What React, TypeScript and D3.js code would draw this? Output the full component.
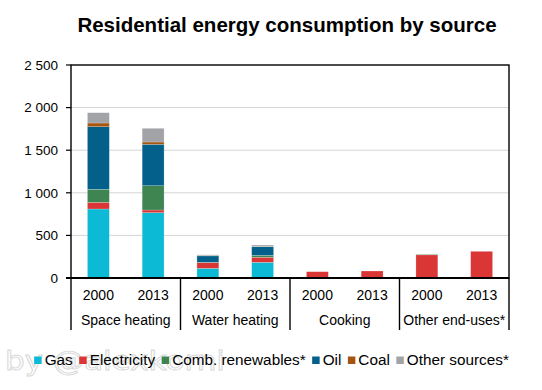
import React, { useEffect, useRef } from 'react';
import * as d3 from 'd3';

// end uses and years on the x axis
const endUses = ["Space heating", "Water heating", "Cooking", "Other end-uses*"];
const years = ["2000", "2013"];

// values per bar, in order: Space 2000, Space 2013, Water 2000, Water 2013, Cooking 2000, Cooking 2013, Other 2000, Other 2013
const gas = [810, 767, 114, 184, 0, 0, 0, 0];
const electricity = [78, 31, 66, 59, 74, 82, 272, 313];
const renewables = [153, 285, 5, 23, 0, 0, 6, 0];
const oil = [735, 486, 75, 101, 0, 0, 0, 0];
const coal = [43, 27, 2, 3, 0, 0, 0, 0];
const other = [121, 161, 10, 17, 0, 0, 0, 0];

const sources = ["Gas", "Electricity", "Comb. renewables*", "Oil", "Coal", "Other sources*"];
const sourceValues = [gas, electricity, renewables, oil, coal, other];
const colors = ["#0DBAD6", "#DA3636", "#3E8552", "#03608A", "#A5550F", "#A2A3A7"];

const yTicks = [0, 500, 1000, 1500, 2000, 2500];

const FONT = "'Liberation Sans', Arial, sans-serif";

const App: React.FC = () => {
    const ref = useRef<SVGSVGElement | null>(null);

    useEffect(() => {
        if (!ref.current) return;
        const svg = d3.select(ref.current);
        svg.selectAll("*").remove();

        const left = 71, right = 509, top = 65, bottom = 278;

        const x0 = d3.scaleBand<string>().domain(endUses).range([left, right]);
        const x1 = d3.scaleBand<string>().domain(years).range([0, x0.bandwidth()])
            .paddingInner(0.6).paddingOuter(0.3);
        const y = d3.scaleLinear().domain([0, 2500]).range([bottom, top]);

        const fmt = d3.formatLocale({ decimal: ".", thousands: " ", grouping: [3], currency: ["", ""] }).format(",");

        // title
        svg.append("text")
            .attr("x", 287).attr("y", 32)
            .attr("text-anchor", "middle")
            .style("font-family", FONT).style("font-weight", "bold").style("font-size", "20.5px")
            .text("Residential energy consumption by source");

        // grid
        svg.append("g").selectAll("line")
            .data(yTicks.filter(t => t > 0 && t < 2500))
            .join("line")
            .attr("x1", left).attr("x2", right)
            .attr("y1", d => y(d)).attr("y2", d => y(d))
            .attr("stroke", "#d4d4d4").attr("stroke-width", 1);

        // stacked bars
        const rows = endUses.flatMap((u, i) => years.map((yr, j) => ({ use: u, year: yr, idx: i * 2 + j })));
        rows.forEach(r => {
            let acc = 0;
            sourceValues.forEach((vals, s) => {
                const v = vals[r.idx];
                if (v <= 0) return;
                svg.append("rect")
                    .attr("x", (x0(r.use) as number) + (x1(r.year) as number))
                    .attr("width", x1.bandwidth())
                    .attr("y", y(acc + v))
                    .attr("height", y(acc) - y(acc + v))
                    .attr("fill", colors[s])
                    .attr("stroke", "#ffffff").attr("stroke-opacity", 0.35).attr("stroke-width", 0.6);
                acc += v;
            });
        });

        // frame
        svg.append("rect")
            .attr("x", left).attr("y", top)
            .attr("width", right - left).attr("height", bottom - top)
            .attr("fill", "none").attr("stroke", "#000").attr("stroke-width", 1.4);
        svg.append("line")
            .attr("x1", left - 5).attr("x2", right)
            .attr("y1", bottom).attr("y2", bottom)
            .attr("stroke", "#000").attr("stroke-width", 2);

        // y axis ticks and labels
        const yg = svg.append("g");
        yg.selectAll("line").data(yTicks).join("line")
            .attr("x1", left - 5).attr("x2", left)
            .attr("y1", d => y(d)).attr("y2", d => y(d))
            .attr("stroke", "#000").attr("stroke-width", 1.2);
        yg.selectAll("text").data(yTicks).join("text")
            .attr("x", 58).attr("y", d => y(d))
            .attr("dy", "0.36em")
            .attr("text-anchor", "end")
            .style("font-family", FONT).style("font-size", "13.5px")
            .text(d => fmt(d));

        // category separators below the axis
        const seps = [...endUses.map(u => x0(u) as number), right];
        svg.append("g").selectAll("line").data(seps).join("line")
            .attr("x1", d => d).attr("x2", d => d)
            .attr("y1", bottom).attr("y2", 330)
            .attr("stroke", "#000").attr("stroke-width", 1.4);

        // year labels
        rows.forEach(r => {
            svg.append("text")
                .attr("x", (x0(r.use) as number) + (x1(r.year) as number) + x1.bandwidth() / 2)
                .attr("y", 300)
                .attr("text-anchor", "middle")
                .style("font-family", FONT).style("font-size", "14px")
                .text(r.year);
        });
        // group labels
        endUses.forEach(u => {
            svg.append("text")
                .attr("x", (x0(u) as number) + x0.bandwidth() / 2)
                .attr("y", 324.5)
                .attr("text-anchor", "middle")
                .style("font-family", FONT).style("font-size", "14px")
                .text(u);
        });

        // watermark (under the legend)
        svg.append("text")
            .attr("x", 5).attr("y", 370)
            .attr("textLength", 220).attr("lengthAdjust", "spacingAndGlyphs")
            .style("font-family", "'DejaVu Sans', sans-serif").style("font-size", "26px")
            .attr("fill", "none")
            .attr("stroke", "#d8d8d8").attr("stroke-width", 0.9)
            .text("by @alexkorni");

        // legend
        const lg = svg.append("g");
        let cx = 0;
        sources.forEach((s, i) => {
            const g = lg.append("g").attr("transform", `translate(${cx},0)`);
            g.append("rect").attr("x", 0).attr("y", -8.5).attr("width", 7.5).attr("height", 7.5).attr("fill", colors[i]);
            const t = g.append("text").attr("x", 10.5).attr("y", 0)
                .style("font-family", FONT).style("font-size", "15.3px")
                .text(s);
            const w = (t.node() as SVGTextElement).getComputedTextLength();
            cx += 10.5 + w + 6.5;
        });
        const total = cx - 6.5;
        lg.attr("transform", `translate(${271.5 - total / 2},365)`);
    }, []);

    return (
        <svg ref={ref} width={542} height={390}
            style={{ position: "absolute", left: 0, top: 0, background: "#fff" }} />
    );
};

export default App;
